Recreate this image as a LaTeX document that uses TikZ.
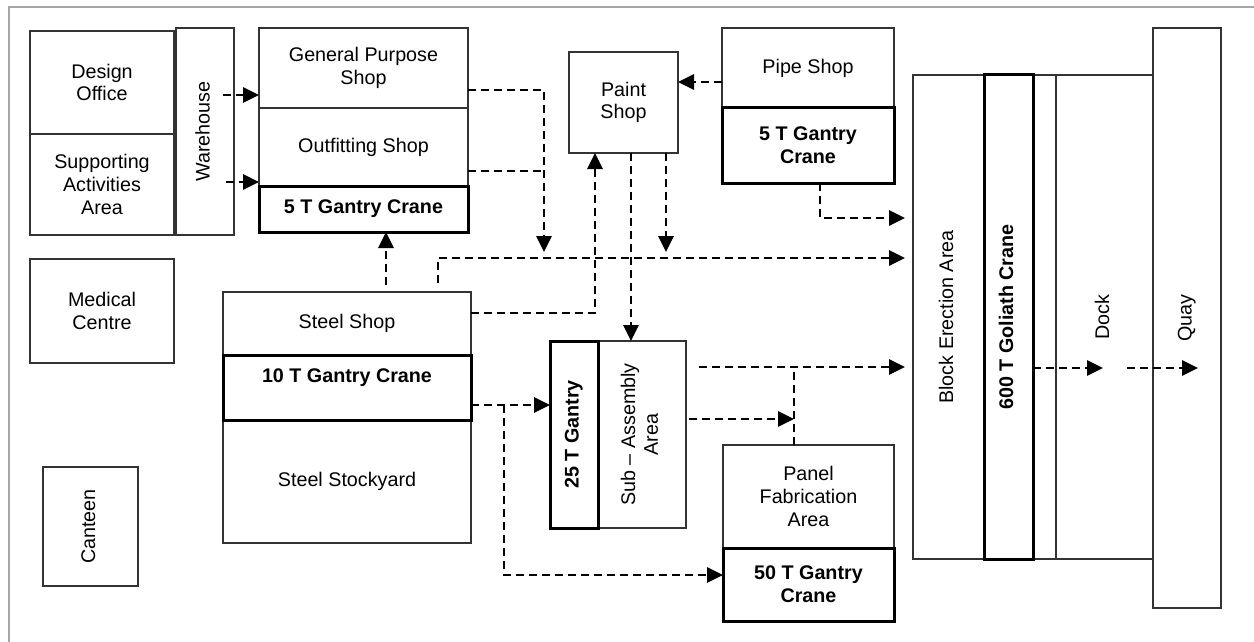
\documentclass[tikz,border=0pt]{standalone}
\usepackage{fontspec}
\setmainfont{Liberation Sans}
\usetikzlibrary{arrows.meta}
\newcommand\mkbox[7]{\node[#6, minimum width={(#4-#2)*0.75pt}, minimum height={(#5-#3)*0.75pt}] (#1) at ({(#2+#4)/2},{(#3+#5)/2}) {#7};}
\newcommand\rot[1]{\rotatebox{90}{\begin{tabular}{@{}c@{}}#1\end{tabular}}}
\begin{document}
\begin{tikzpicture}[x=0.75pt,y=-0.75pt,
  txt/.style={font=\fontsize{14.8pt}{17pt}\selectfont, align=center, inner sep=0pt},
  room/.style={txt, draw=black!80, line width=0.8pt, outer sep=0pt, fill=white},
  crane/.style={room, draw=black, line width=2.25pt, font=\fontsize{14.8pt}{17pt}\selectfont\bfseries},
  flow/.style={draw=black, line width=1.4pt, dash pattern=on 6pt off 3.75pt},
  arr/.style={flow, -{Triangle[length=12pt,width=11.5pt]}}]
\useasboundingbox (0,0) rectangle (1254,642);
\draw[black!35, line width=1.1pt] (9,642) -- (9,7) -- (1254,7);
% thin rooms
\mkbox{design}{30}{31}{174}{134}{room}{Design\\Office}
\mkbox{support}{30}{134}{174}{235}{room}{Supporting\\Activities\\Area}
\mkbox{wh}{176}{28}{234}{235}{room}{\rot{Warehouse}}
\mkbox{gp}{259}{28}{468}{108}{room}{General Purpose\\Shop}
\mkbox{out}{259}{108}{468}{186}{room}{Outfitting Shop}
\mkbox{med}{30}{259}{174}{363}{room}{Medical\\Centre}
\mkbox{can}{43}{467}{138}{586}{room}{\rot{Canteen}}
\mkbox{steel}{223}{292}{471}{355}{room}{Steel Shop}
\mkbox{stock}{223}{420}{471}{543}{room}{Steel Stockyard}
\mkbox{paint}{569}{52}{678}{153}{room}{Paint\\Shop}
\mkbox{pipe}{722}{28}{894}{108}{room}{Pipe Shop}
\mkbox{sub}{598}{341}{686}{528}{room}{\rot{Sub – Assembly\\Area}}
\mkbox{panel}{723}{445}{894}{548}{room}{Panel\\Fabrication\\Area}
\mkbox{block}{913}{75}{984}{559}{room}{\rot{Block Erection Area}}
\mkbox{strip}{1033}{75}{1056}{559}{room}{}
\mkbox{dock}{1056}{75}{1153}{559}{room}{\rot{Dock}}
\mkbox{quay}{1153}{28}{1221}{608}{room}{\rot{Quay}}
% cranes
\mkbox{gpc}{259}{186}{468}{232}{crane}{5 T Gantry Crane}
\mkbox{stc}{223}{355}{471}{420}{crane}{}
\node[txt, font=\fontsize{14.8pt}{17pt}\selectfont\bfseries] (stctext) at (347,378) {10 T Gantry Crane};
\mkbox{pipec}{722}{108}{894}{183}{crane}{5 T Gantry\\Crane}
\mkbox{g25}{550}{341}{598}{528}{crane}{\rot{25 T Gantry}}
\mkbox{panc}{723}{548}{894}{621}{crane}{50 T Gantry\\Crane}
\mkbox{gol}{984}{75}{1033}{559}{crane}{\rot{600 T Goliath Crane}}
% connectors
\coordinate (a1) at (223,95);
\coordinate (a2) at (226,182);
\draw[arr] (a1) -- (gp.west |- a1);
\draw[arr] (a2) -- (out.west |- a2);
\coordinate (b1) at (544,90);
\coordinate (b2) at (544,252);
\coordinate (b3) at (544,171);
\draw[arr] (gp.east |- b1) -- (b1) -- (b2);
\draw[flow] (out.east |- b3) -- (b3);
\coordinate (c1) at (700,82);
\draw[arr] (pipe.west |- c1) -- (paint.east |- c1);
\coordinate (d1) at (666,252);
\coordinate (d2) at (631,300);
\draw[arr] (paint.south -| d1) -- (d1);
\draw[arr] (paint.south -| d2) -- (sub.north -| d2);
\coordinate (e1) at (595,313);
\draw[arr] (steel.east |- e1) -- (e1) -- (paint.south -| e1);
\coordinate (f1) at (386,285);
\draw[arr] (f1) -- (gpc.south -| f1);
\coordinate (g1) at (438,283);
\coordinate (g2) at (438,258);
\draw[arr, shorten >=6pt] (g1) -- (g2) -- (block.west |- g2);
\coordinate (h1) at (820,218);
\draw[arr, shorten >=6pt] (pipec.south -| h1) -- (h1) -- (block.west |- h1);
\coordinate (i1) at (480,405);
\coordinate (i2) at (504,405);
\coordinate (i3) at (504,575);
\draw[arr] (stc.east |- i1) -- (g25.west |- i1);
\draw[arr] (i2) -- (i3) -- (panc.west |- i3);
\coordinate (k1) at (699,367);
\coordinate (k2) at (689,419);
\coordinate (k3) at (794,419);
\coordinate (k4) at (794,367);
\draw[arr, shorten >=6pt] (k1) -- (block.west |- k1);
\draw[arr] (k2) -- (k3);
\draw[flow] (panel.north -| k4) -- (k4);
\coordinate (m1) at (1103,368);
\coordinate (m2) at (1127,368);
\coordinate (m3) at (1198,368);
\draw[arr] (gol.east |- m1) -- (m1);
\draw[arr] (m2) -- (m3);
\end{tikzpicture}
\end{document}
